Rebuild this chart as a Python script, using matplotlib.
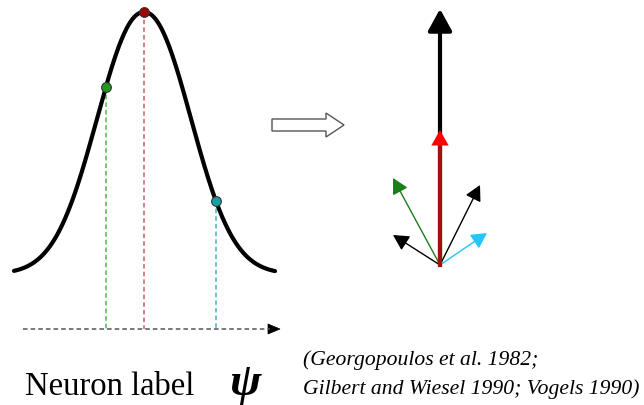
import matplotlib
matplotlib.use("Agg")
import matplotlib.pyplot as plt
import numpy as np
from matplotlib.patches import Polygon, FancyArrowPatch

# tuning curve (pixel space of the original figure)
peak_x = 144
curve_left, curve_right = 14, 275
curve_base = 274
curve_amp = 262
curve_width = 64
curve_power = 2.1

# sampled neurons: label position and dot colour
neuron_x = [106, 144, 216]
neuron_colors = ["#1f9a1f", "#a00000", "#17a2a2"]
dash_colors = ["#4cb84c", "#d06060", "#3fb5c0"]
axis_y = 329

# population vectors: tip positions relative to origin
vec_origin = (440, 265)
vec_tips = [(393, 178), (393, 235), (480, 185), (487, 233)]
vec_colors = ["#1a7f1a", "black", "black", "#22c8f5"]
sum_tip = (440, 9)
red_tip = (440, 130)

def curve(x):
    return curve_base - curve_amp * np.exp(-(np.abs(x - peak_x) / curve_width) ** curve_power)

fig = plt.figure(figsize=(6.44, 4.05), dpi=100)
ax = fig.add_axes([0, 0, 1, 1])
ax.set_xlim(0, 644)
ax.set_ylim(405, 0)
ax.axis("off")

xs = np.linspace(curve_left, curve_right, 400)
ax.plot(xs, curve(xs), color="black", lw=3, solid_capstyle="round", zorder=3)

for x, c, dc in zip(neuron_x, neuron_colors, dash_colors):
    y = curve(x)
    ax.plot([x, x], [y, axis_y], color=dc, lw=1.1, ls=(0, (3, 2)), zorder=2)
    ax.plot(x, y, "o", ms=7, mfc=c, mec="#333333", mew=0.8, zorder=4)

# dashed x axis with arrow head
ax.plot([23, 270], [axis_y, axis_y], color="#555555", lw=1.1, ls=(0, (3, 2)))
ax.add_patch(Polygon([[268, axis_y - 5], [280, axis_y], [268, axis_y + 5]],
                     closed=True, fc="black", ec="black", lw=0.5))

# hollow block arrow
ax.add_patch(Polygon([[272, 119], [326, 119], [326, 113], [344, 125],
                      [326, 137], [326, 131], [272, 131]],
                     closed=True, fc="white", ec="#555555", lw=1))

# population vector arrows
ox, oy = vec_origin
ax.add_patch(FancyArrowPatch((ox, oy), sum_tip, arrowstyle="-|>,head_length=6,head_width=3.3",
                             mutation_scale=2.2, color="black", lw=3, shrinkA=0, shrinkB=0))
ax.plot([ox, ox], [oy, red_tip[1] + 8], color="#a01010", lw=3, zorder=4)
ax.add_patch(FancyArrowPatch((ox, oy), red_tip, arrowstyle="-|>,head_length=5,head_width=2.8",
                             mutation_scale=2.2, color="red", lw=0.1, shrinkA=0, shrinkB=0, zorder=5))
for (tx, ty), c in zip(vec_tips, vec_colors):
    ax.add_patch(FancyArrowPatch((ox, oy), (tx, ty), arrowstyle="-|>,head_length=4.3,head_width=2.3",
                                 mutation_scale=2.2, color=c, lw=1, shrinkA=0, shrinkB=0))

ax.text(25, 395, "Neuron label", fontsize=23.5, family="Liberation Serif", va="baseline")
ax.text(229, 395, "ψ", fontsize=34, family="Liberation Serif", style="italic",
        weight="bold", va="baseline")
ax.text(303, 365, "(Georgopoulos et al. 1982;", fontsize=15.6, family="Liberation Serif",
        style="italic", va="baseline")
ax.text(303, 394, "Gilbert and Wiesel 1990; Vogels 1990)", fontsize=15.6,
        family="Liberation Serif", style="italic", va="baseline")

fig.savefig("out.png", dpi=100)
